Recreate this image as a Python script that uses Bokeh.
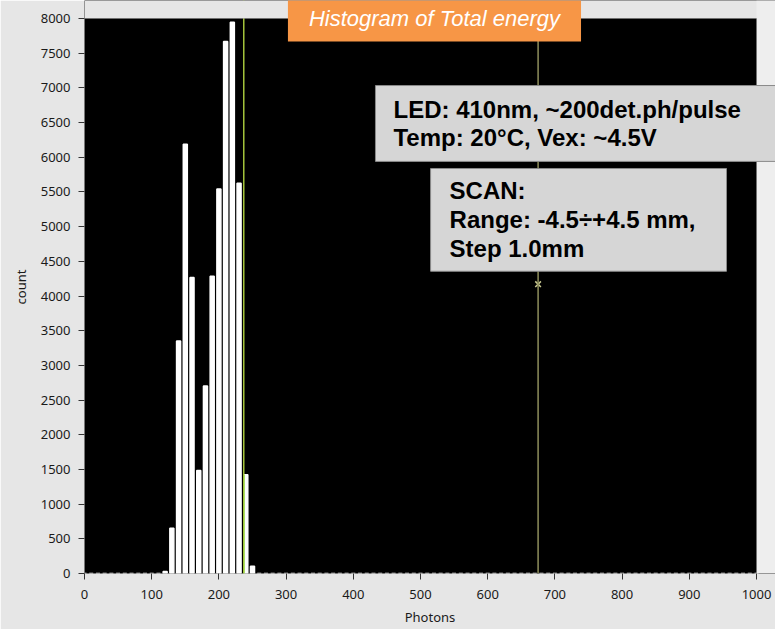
from bokeh.plotting import figure
from bokeh.models import Range1d, Label, Span, FixedTicker, BoxAnnotation
from bokeh.embed import file_html
from bokeh.resources import INLINE

# ---- data ----
photons = list(range(0, 1001, 10))          # bin centres
counts = [0] * 12 + [29, 654, 3351, 6188, 4265, 1486, 2702, 4284,
                     5542, 7668, 7947, 5624, 1423, 106] + [0] * 75
cursor_x = [237, 675]
cursor_y = [1423, 4170]
x_ticks = list(range(0, 1001, 100))
y_ticks = list(range(0, 8001, 500))

title_text = "Histogram of Total energy"
info_led = "LED: 410nm, ~200det.ph/pulse\nTemp: 20°C, Vex: ~4.5V"
info_scan = "SCAN:\nRange: -4.5÷+4.5 mm,\nStep 1.0mm"

# ---- layout (pixels) ----
W, H = 775, 629
LEFT, BOTTOM = 84, 56
PLOT_W, PLOT_H = 672, 555          # visible black plot area
x_max, y_max = x_ticks[-1], y_ticks[-1]
# the frame extends to the canvas top/right so that annotations can overflow
x_end = x_max * (W - LEFT) / PLOT_W
y_end = y_max * (H - BOTTOM) / PLOT_H

p = figure(width=W, height=H, output_backend="svg", toolbar_location=None,
           x_range=Range1d(0, x_end), y_range=Range1d(0, y_end),
           min_border_left=LEFT, min_border_right=0,
           min_border_top=0, min_border_bottom=BOTTOM)
p.background_fill_color = "black"
p.border_fill_color = "#e6e6e6"
p.outline_line_color = None
p.grid.visible = False

for ax in (p.xaxis, p.yaxis):
    ax.axis_line_color = None
    ax.major_tick_line_color = "#333333"
    ax.major_tick_out = 6
    ax.major_tick_in = 0
    ax.minor_tick_line_color = None
    ax.major_label_text_font = "Noto Sans"
    ax.major_label_text_font_size = "13px"
    ax.major_label_text_color = "#1a1a1a"
    ax.axis_label_text_font = "Noto Sans"
    ax.axis_label_text_font_size = "13px"
    ax.axis_label_text_font_style = "normal"
    ax.axis_label_text_color = "#1a1a1a"

p.xaxis.ticker = FixedTicker(ticks=x_ticks)
p.yaxis.ticker = FixedTicker(ticks=y_ticks)
p.xaxis.axis_label = "Photons"
p.yaxis.axis_label = "count"
p.xaxis.axis_label_text_align = "center"
p.xaxis.major_label_standoff = 10
p.xaxis.axis_label_standoff = 6
p.yaxis.major_label_standoff = 8
p.yaxis.axis_label_standoff = 8

# histogram bars
p.vbar(x=photons, top=counts, bottom=0, width=6, fill_color="white",
       line_color="white", line_width=1.5)

# cursors
p.add_layout(Span(location=cursor_x[0], dimension="height",
                  line_color="#a4c43c", line_width=1.5))
p.add_layout(Span(location=cursor_x[1], dimension="height",
                  line_color="#8e8e5c", line_width=1.5))
p.segment(x0=cursor_x[:1], x1=cursor_x[:1], y0=[0], y1=cursor_y[:1],
          line_color="#66ff33", line_width=1.5)
p.scatter(x=cursor_x[1:], y=cursor_y[1:], marker="x", size=8,
          line_color="#c8c890", line_width=1.5)

# panel areas outside the black plot area
p.add_layout(BoxAnnotation(bottom=y_max, fill_color="#e6e6e6", fill_alpha=1,
                           line_color=None, level="overlay"))
p.add_layout(BoxAnnotation(left=x_max, fill_color="#eeeeee", fill_alpha=1,
                           line_color=None, level="overlay"))
p.add_layout(BoxAnnotation(left=0, right=x_max, bottom=0, top=y_max,
                           fill_color=None, fill_alpha=0,
                           line_color="#6a6a6a", line_width=1, level="overlay"))

# title box
p.add_layout(Label(x=520.8, y=7669, anchor="bottom_center", text=title_text,
                   level="overlay",
                   text_font="Liberation Sans", text_font_style="italic",
                   text_font_size="22px", text_color="white",
                   background_fill_color="#f79646",
                   padding=dict(left=21, right=21, top=12, bottom=10)))

# info boxes
p.add_layout(Label(x=433, y=7034, anchor="top_left", text=info_led,
                   level="overlay",
                   text_font="Liberation Sans", text_font_style="bold",
                   text_font_size="24px", text_color="black",
                   text_line_height=1.07,
                   background_fill_color="#d6d6d6",
                   border_line_color="#8a8a8a", border_line_width=1,
                   padding=dict(left=18, right=40, top=10, bottom=10)))
p.add_layout(Label(x=515, y=5838, anchor="top_left", text=info_scan,
                   level="overlay",
                   text_font="Liberation Sans", text_font_style="bold",
                   text_font_size="24px", text_color="black",
                   text_line_height=1.07,
                   background_fill_color="#d6d6d6",
                   border_line_color="#8a8a8a", border_line_width=1,
                   padding=dict(left=19, right=31, top=9, bottom=9)))

open("out.html", "w").write(file_html(p, INLINE))
